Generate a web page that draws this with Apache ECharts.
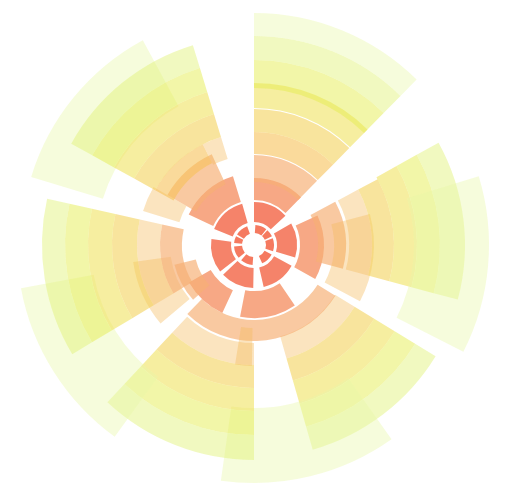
<!DOCTYPE html>
<html>
<head>
<meta charset="utf-8">
<script src="https://cdn.jsdelivr.net/npm/echarts@6/dist/echarts.min.js"></script>
<style>
html, body { margin: 0; padding: 0; background: #fff; }
#grafico { width: 509px; height: 490px; }
</style>
</head>
<body>
<div id="grafico"></div>
<script>
// Sectores del gráfico: ángulo inicial y final (grados desde el norte, sentido horario),
// radio interior y exterior, y tono (índice de color)
const anguloInicio = [
    4, 42, 70, 118, 184, 230, 276, 302,
    0, 60, 119, 181, 232, 292,
    0, 0, 0, 0, 0, 0, 0, 0,
    65, 62, 62, 75, 62, 61, 61, 61, 73,
    121.5, 121.5, 121.5, 121.5, 121.5, 144.7, 122, 146,
    180, 180, 180, 180, 180, 216, 205, 228, 230, 181,
    239, 239, 239, 239, 239, 239,
    287, 295, 300, 287, 299, 333, 299, 299, 299, 299
];
const anguloFin = [
    38, 64, 108, 156, 220, 266, 296, 340,
    47, 107, 167, 226, 278, 344,
    44.5, 44.5, 44.5, 44.5, 44.5, 44.5, 44.5, 44.5,
    119, 105, 105, 118, 105, 105, 105, 105, 117,
    164, 164, 164, 164, 164, 188, 224, 191,
    223, 223, 223, 223, 223, 259.5, 240, 256, 262, 189,
    282.6, 282.6, 282.6, 282.6, 282.6, 282.6,
    331.5, 343, 335, 300, 333, 343, 343, 343, 343, 343
];
const radioInterior = [
    12, 12, 12, 12, 12, 12, 12, 12,
    23, 23, 23, 23, 23, 23,
    45, 63, 91, 113, 137, 157, 185, 209,
    46, 64, 95, 80, 118, 140, 163, 186, 160,
    95, 118, 141, 165, 189, 163, 75, 46,
    98, 120, 143, 166, 190, 163, 50, 60, 84, 83,
    72, 94, 117, 142, 166, 189,
    158, 45, 67, 78, 92, 90, 113, 137, 160, 185
];
const radioExterior = [
    20, 20, 20, 20, 20, 20, 20, 20,
    43, 43, 43, 43, 43, 43,
    67, 90, 113, 136, 162, 185, 209, 232,
    70, 92, 118, 120, 140, 163, 186, 211, 235,
    118, 141, 165, 189, 213, 238, 96, 73,
    120, 143, 166, 190, 215, 237, 75, 82, 122, 121,
    94, 117, 142, 166, 189, 212,
    233, 72, 100, 116, 113, 113, 137, 160, 185, 209
];
const tono = [
    0, 0, 0, 0, 0, 0, 0, 0,
    1, 1, 1, 1, 1, 1,
    2, 3, 4, 5, 6, 7, 8, 9,
    2, 3, 10, 10, 5, 6, 7, 8, 9,
    10, 5, 6, 7, 8, 9, 3, 2,
    10, 5, 6, 7, 8, 9, 2, 3, 10, 10,
    3, 10, 5, 6, 7, 8,
    9, 2, 3, 10, 4, 10, 5, 6, 7, 8
];

// Colores semitransparentes, de naranja (centro) a verde claro (borde)
const colores = [
    'rgba(243,99,68,0.85)',
    'rgba(242,100,69,0.8)',
    'rgba(244,135,86,0.72)',
    'rgba(246,176,116,0.68)',
    'rgba(246,193,89,0.6)',
    'rgba(243,208,87,0.58)',
    'rgba(239,224,82,0.55)',
    'rgba(229,237,81,0.5)',
    'rgba(224,242,115,0.45)',
    'rgba(232,247,167,0.4)',
    'rgba(245,188,95,0.4)'
];

let datos = anguloInicio.map((a, i) => [a, anguloFin[i], radioInterior[i], radioExterior[i], tono[i]]);

function dibujarSector(params, api) {
    let cs = params.coordSys;
    let a0 = api.value(0), a1 = api.value(1), r0 = api.value(2), r1 = api.value(3);
    let pIni = api.coord([r1, a0]);
    let pFin = api.coord([r1, a1]);
    let pIn = api.coord([r0, a0]);
    let inicio = Math.atan2(pIni[1] - cs.cy, pIni[0] - cs.cx);
    let fin = Math.atan2(pFin[1] - cs.cy, pFin[0] - cs.cx);
    while (fin <= inicio) fin += Math.PI * 2;
    return {
        type: 'sector',
        shape: {
            cx: cs.cx,
            cy: cs.cy,
            r0: Math.hypot(pIn[0] - cs.cx, pIn[1] - cs.cy),
            r: Math.hypot(pIni[0] - cs.cx, pIni[1] - cs.cy),
            startAngle: inicio,
            endAngle: fin,
            clockwise: true
        },
        style: { fill: colores[api.value(4)] }
    };
}

let grafico = echarts.init(document.getElementById('grafico'));
grafico.setOption({
    animation: false,
    polar: { center: [254, 245], radius: 240 },
    angleAxis: {
        type: 'value', min: 0, max: 360, startAngle: 90, clockwise: true,
        axisLine: { show: false }, axisTick: { show: false },
        axisLabel: { show: false }, splitLine: { show: false }
    },
    radiusAxis: {
        type: 'value', min: 0, max: 240,
        axisLine: { show: false }, axisTick: { show: false },
        axisLabel: { show: false }, splitLine: { show: false }
    },
    series: [{
        type: 'custom',
        coordinateSystem: 'polar',
        encode: { angle: [0, 1], radius: [2, 3] },
        renderItem: dibujarSector,
        data: datos
    }]
});
</script>
</body>
</html>
